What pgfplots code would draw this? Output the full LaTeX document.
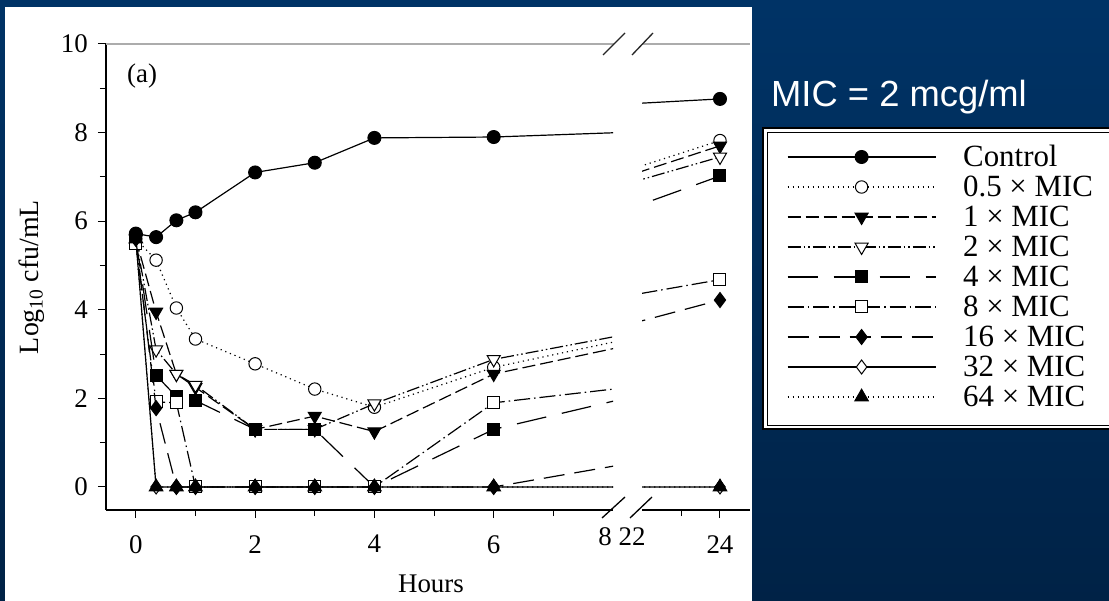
\documentclass[border=0pt]{standalone}
\usepackage{pgfplots}
\pgfplotsset{compat=1.18}
\usepackage{pgfplotstable}
\usepackage{fontspec}
\setmainfont{Liberation Serif}
\newfontfamily\sansfont{Liberation Sans}

\definecolor{bgtop}{RGB}{0,51,102}
\definecolor{bgbot}{RGB}{0,34,70}
\definecolor{topline}{RGB}{172,172,172}

\pgfplotstableread{
x y
0 5.72
0.34 5.64
0.68 6.02
1 6.2
2 7.1
3 7.32
4 7.88
6 7.9
24 8.76
}\tCtrl
\pgfplotstableread{
x y
0 5.6
0.34 5.12
0.68 4.04
1 3.34
2 2.78
3 2.21
4 1.8
6 2.7
24 7.82
}\tHalf
\pgfplotstableread{
x y
0 5.6
0.34 3.95
0.68 2.55
1 2.25
2 1.3
3 1.6
4 1.25
6 2.55
24 7.7
}\tOne
\pgfplotstableread{
x y
0 5.6
0.34 3.1
0.68 2.55
1 2.3
2 1.3
3 1.3
4 1.88
6 2.88
24 7.45
}\tTwo
\pgfplotstableread{
x y
0 5.6
0.34 2.52
0.68 2.04
1 1.95
2 1.3
3 1.3
4 0
6 1.3
24 7.02
}\tFour
\pgfplotstableread{
x y
0 5.5
0.34 1.92
0.68 1.9
1 0
2 0
3 0
4 0
6 1.9
24 4.68
}\tEight
\pgfplotstableread{
x y
0 5.6
0.34 1.78
0.68 0
1 0
2 0
3 0
4 0
6 0
24 4.22
}\tSixteen
\pgfplotstableread{
x y
0 5.6
0.34 0
0.68 0
1 0
2 0
3 0
4 0
6 0
24 0
}\tThirtytwo
\pgfplotstableread{
x y
0 5.6
0.34 0
0.68 0
1 0
2 0
3 0
4 0
6 0
24 0
}\tSixtyfour

\pgfplotsset{
  sCtrl/.style={black, line width=1.2bp, solid, mark=*, mark size=6.5bp, mark options={solid, line width=1bp, fill=black}},
  sHalf/.style={black, line width=1.2bp, dash pattern=on 1.2bp off 3.8bp, mark=*, mark size=6.2bp, mark options={solid, line width=1bp, fill=white}},
  sOne/.style={black, line width=1.2bp, dash pattern=on 13bp off 5bp, mark=triangle*, mark size=7.5bp, mark options={solid, line width=1bp, fill=black, rotate=180}},
  sTwo/.style={black, line width=1.2bp, dash pattern=on 13bp off 3bp on 1.5bp off 3bp on 1.5bp off 3bp, mark=triangle*, mark size=7.5bp, mark options={solid, line width=1bp, fill=white, rotate=180}},
  sFour/.style={black, line width=1.2bp, dash pattern=on 30bp off 16bp, mark=square*, mark size=6bp, mark options={solid, line width=1bp, fill=black}},
  sEight/.style={black, line width=1.2bp, dash pattern=on 16bp off 4bp on 1.5bp off 4bp, mark=square*, mark size=6bp, mark options={solid, line width=1bp, fill=white}},
  sSixteen/.style={black, line width=1.2bp, dash pattern=on 21bp off 10bp, mark=diamond*, mark size=7.5bp, mark options={solid, line width=1bp, fill=black}},
  sThirtytwo/.style={black, line width=1.2bp, solid, mark=diamond*, mark size=7bp, mark options={solid, line width=1bp, fill=white}},
  sSixtyfour/.style={black, line width=1.2bp, dash pattern=on 1.2bp off 3.8bp, mark=triangle*, mark size=7.8bp, mark options={solid, line width=1bp, fill=black}},
  brk/.style={
    scale only axis, anchor=south west, height=466bp,
    ymin=-0.52, ymax=10,
    axis x line*=bottom,
    axis line style={line width=1.3bp, black, -},
    tick align=outside, major tick length=8bp, minor tick length=6bp,
    tick style={line width=1bp, black},
    /pgf/number format/assume math mode=true,
    tick label style={font=\fontsize{27}{27}\selectfont},
    xticklabel style={inner sep=0pt, anchor=north, yshift=-17bp},
    clip marker paths=true,
  },
}

\begin{document}
\begin{tikzpicture}
\useasboundingbox (0bp,0bp) rectangle (1109bp,601bp);
\begin{scope}[x=1bp,y=1bp]
\shade[top color=bgtop, bottom color=bgbot] (0,0) rectangle (1109,601);
\fill[white] (5,0) rectangle (752,594);
% legend frame
\fill[white] (763,172) rectangle (1115,473);
\draw[line width=1.3bp] (1115,172) -- (763,172) -- (763,473) -- (1115,473);
\draw[line width=0.9bp] (1115,176) -- (767,176) -- (767,469) -- (1115,469);
\node[anchor=base west, inner sep=0pt, text=white, font=\sansfont\fontsize{36.5}{36.5}\selectfont] at (771,494) {MIC = 2 mcg/ml};
\end{scope}

\begin{axis}[brk,
  at={(106bp,91bp)}, width=507bp,
  xmin=-0.5, xmax=8,
  axis y line*=left,
  xtick={0,2,4,6}, minor xtick={1,3,5,7},
  extra x ticks={8}, extra x tick style={major tick length=0pt, xticklabel style={xshift=-8bp}},
  ytick={0,2,4,6,8,10}, minor ytick={1,3,5,7,9},
  yticklabel style={inner sep=0pt, anchor=east, xshift=-10bp},
  xlabel={Hours},
  xlabel style={at={(axis description cs:0.641,-0.176)}, anchor=base, font=\fontsize{27}{27}\selectfont},
  ylabel={Log\textsubscript{10} cfu/mL},
  ylabel style={at={(axis description cs:-0.147,0.5)}, anchor=center, font=\fontsize{28}{28}\selectfont},
  legend cell align=left,
  legend style={at={(1.3432,0.7897)}, anchor=north west, draw=none, fill=none,
    inner sep=0pt, outer sep=0pt, column sep=27bp, row sep=0pt,
    font=\fontsize{31}{31}\selectfont,
    nodes={inner sep=0pt, text height=25bp, text depth=5bp}},
  legend image code/.code={\draw[mark repeat=2,mark phase=2,#1] plot coordinates {(0bp,0bp) (74bp,0bp) (148bp,0bp)};},
]
\addlegendimage{sCtrl}\addlegendentry{Control}
\addlegendimage{sHalf}\addlegendentry{0.5 × MIC}
\addlegendimage{sOne}\addlegendentry{1 × MIC}
\addlegendimage{sTwo}\addlegendentry{2 × MIC}
\addlegendimage{sFour}\addlegendentry{4 × MIC}
\addlegendimage{sEight}\addlegendentry{8 × MIC}
\addlegendimage{sSixteen}\addlegendentry{16 × MIC}
\addlegendimage{sThirtytwo}\addlegendentry{32 × MIC}
\addlegendimage{sSixtyfour}\addlegendentry{64 × MIC}
\addplot[sThirtytwo, forget plot] table {\tThirtytwo};
\addplot[sCtrl, forget plot] table {\tCtrl};
\addplot[sHalf, forget plot] table {\tHalf};
\addplot[sOne, forget plot] table {\tOne};
\addplot[sTwo, forget plot] table {\tTwo};
\addplot[sFour, forget plot] table {\tFour};
\addplot[sEight, forget plot] table {\tEight};
\addplot[sSixteen, forget plot] table {\tSixteen};
\addplot[sSixtyfour, forget plot] table {\tSixtyfour};
\end{axis}

\begin{axis}[brk,
  at={(642bp,91bp)}, width=108bp,
  xmin=22, xmax=24.77,
  axis y line=none,
  xtick={24}, minor xtick={23},
  extra x ticks={22}, extra x tick style={major tick length=0pt, xticklabel style={xshift=-10bp}},
  ytick=\empty,
]
\addplot[sThirtytwo] table {\tThirtytwo};
\addplot[sCtrl] table {\tCtrl};
\addplot[sHalf] table {\tHalf};
\addplot[sOne] table {\tOne};
\addplot[sTwo] table {\tTwo};
\addplot[sFour] table {\tFour};
\addplot[sEight] table {\tEight};
\addplot[sSixteen] table {\tSixteen};
\addplot[sSixtyfour] table {\tSixtyfour};
\end{axis}

\begin{scope}[x=1bp,y=1bp]
% top frame line and axis breaks
\draw[topline, line width=2.5bp] (106,557) -- (614,557);
\draw[topline, line width=2.5bp] (642,557) -- (750,557);
\draw[line width=1.3bp, black!85] (603,546) -- (625,568);
\draw[line width=1.3bp, black!85] (632,546) -- (653,568);
\draw[line width=1.3bp] (602,83) -- (625,104);
\draw[line width=1.3bp] (630,83) -- (652,104);
\node[anchor=base west, inner sep=0pt, font=\fontsize{27}{27}\selectfont] at (127,518) {(a)};
\end{scope}
\end{tikzpicture}
\end{document}
